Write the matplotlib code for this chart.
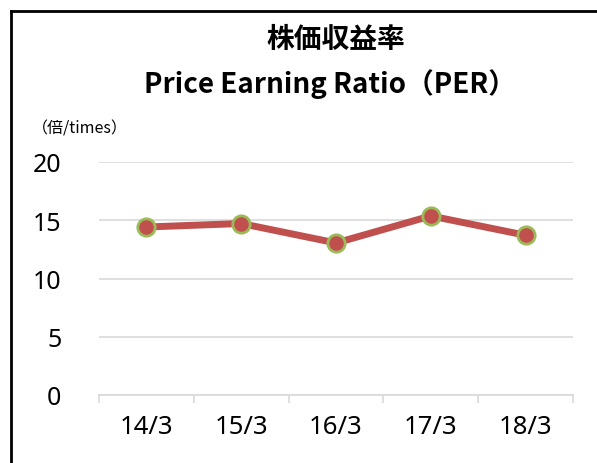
import matplotlib
matplotlib.use("Agg")
import matplotlib.pyplot as plt
from matplotlib.lines import Line2D
from matplotlib.ticker import FixedLocator

plt.rcParams['font.family'] = ['Noto Sans CJK JP', 'DejaVu Sans']

categories = ["14/3", "15/3", "16/3", "17/3", "18/3"]
per_values = [14.42, 14.72, 13.05, 15.37, 13.71]
y_ticks = [0, 5, 10, 15, 20]

W, H = 597, 464
fig = plt.figure(figsize=(W / 100, H / 100), dpi=100)
ax = fig.add_axes([99 / W, 1 - 396 / H, (573 - 99) / W, (396 - 163) / H])

x = list(range(len(categories)))
ax.plot(x, per_values, color='#C0504D', linewidth=5, solid_capstyle='round',
        marker='o', markersize=12.5, markerfacecolor='#C0504D',
        markeredgecolor='#9BBB59', markeredgewidth=2, zorder=3)

ax.set_xlim(-0.5, len(categories) - 0.5)
ax.set_ylim(0, 20)
ax.set_yticks(y_ticks)
ax.set_yticklabels([str(v) for v in y_ticks], fontsize=18, family=['Noto Sans', 'DejaVu Sans'])
ax.set_xticks(x)
ax.set_xticklabels(categories, fontsize=18.5, family=['Noto Sans', 'DejaVu Sans'])
ax.xaxis.set_minor_locator(FixedLocator([i - 0.5 for i in range(len(categories) + 1)]))
ax.tick_params(axis='x', which='major', length=0, pad=14)
ax.tick_params(axis='x', which='minor', length=6, color='#D9D9D9', width=1.2)
ax.tick_params(axis='y', length=0, pad=27)
ax.grid(axis='y', color='#D9D9D9', linewidth=1.2)
ax.set_axisbelow(True)
for s in ['top', 'right', 'left']:
    ax.spines[s].set_visible(False)
ax.spines['bottom'].set_color('#D9D9D9')
ax.spines['bottom'].set_linewidth(1.2)

fig.text(336 / W, 1 - 40 / H, "株価収益率", ha='center', va='center',
         fontsize=20, fontweight='bold')
fig.text(330 / W, 1 - 84 / H, "Price Earning Ratio（PER）", ha='center', va='center',
         fontsize=20, fontweight='bold')
fig.text(32 / W, 1 - 129 / H, "（倍/times）", ha='left', va='center', fontsize=11.5)

# outer frame lines (top and left only, as in the reference)
fig.add_artist(Line2D([11 / W, 1], [1 - 12 / H, 1 - 12 / H], color='black', linewidth=2,
                      transform=fig.transFigure))
fig.add_artist(Line2D([11 / W, 11 / W], [0, 1 - 12 / H], color='black', linewidth=2,
                      transform=fig.transFigure))

fig.savefig("out.png", dpi=100)
